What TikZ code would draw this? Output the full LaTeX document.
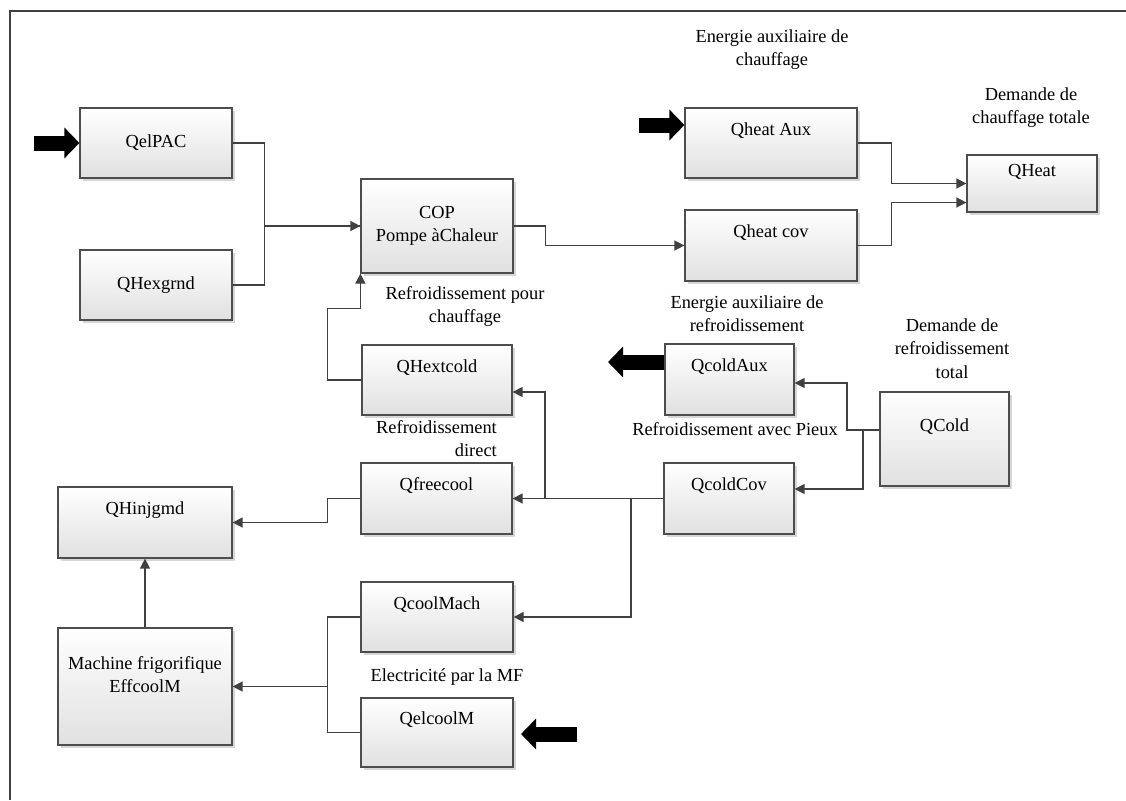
\documentclass[tikz,border=0pt]{standalone}
\usepackage{fontspec}
\setmainfont{Liberation Serif}
\usetikzlibrary{arrows.meta,shadows,calc}
\definecolor{linec}{HTML}{404040}
\definecolor{boxc}{HTML}{4D4D4D}
\newcommand\dfnt{\fontsize{18.4pt}{23.5pt}\selectfont}
\tikzset{
  box/.style={draw=boxc, line width=1.2pt, top color=white, bottom color=black!12,
    drop shadow={shadow xshift=3pt,shadow yshift=-3pt,fill=black!16,opacity=1},
    inner sep=0pt, align=center, font=\dfnt},
  topbox/.style={box, text height=13pt, text depth=29pt},
  conn/.style={draw=linec, line width=1.4pt},
  arr/.style={conn, -{Triangle[length=10pt,width=10pt]}},
  bigarr/.style={draw=black, line width=15pt, -{Triangle[length=15pt,width=30pt]}},
  lbl/.style={font=\dfnt, align=center, inner sep=0pt},
}
\begin{document}
\begin{tikzpicture}[x=1pt,y=-1pt]
\useasboundingbox (0,0) rectangle (1126,800);
\fill[white] (0,0) rectangle (1126,800);
\draw[line width=1.5pt, draw=linec] (10,800) -- (10,11) -- (1126,11);

% boxes
\node[box, minimum width=152pt, minimum height=70pt] (qelpac) at (156,143) {QelPAC};
\node[box, minimum width=152pt, minimum height=70pt] (qhexgrnd) at (156,285) {QHexgrnd};
\node[box, minimum width=152pt, minimum height=94pt] (cop) at (437,226) {COP\\Pompe àChaleur};
\node[topbox, minimum width=172pt, minimum height=70pt] (qheataux) at (771,143) {Qheat Aux};
\node[topbox, minimum width=172pt, minimum height=71pt] (qheatcov) at (771,245.5) {Qheat cov};
\node[box, minimum width=130pt, minimum height=57pt, text height=13pt, text depth=27pt] (qheat) at (1032,183.5) {QHeat};
\node[topbox, minimum width=150pt, minimum height=70pt] (qhextcold) at (437,380) {QHextcold};
\node[topbox, minimum width=129pt, minimum height=71pt] (qcoldaux) at (729.5,379.5) {QcoldAux};
\node[topbox, minimum width=130pt, minimum height=71pt] (qcoldcov) at (729,498.5) {QcoldCov};
\node[topbox, minimum width=129pt, minimum height=94pt, text depth=28pt] (qcold) at (944.5,439) {QCold};
\node[topbox, minimum width=151pt, minimum height=71pt] (qfreecool) at (436.5,498.5) {Qfreecool};
\node[topbox, minimum width=174pt, minimum height=71pt] (qhinjgmd) at (145,522.5) {QHinjgmd};
\node[box, minimum width=174pt, minimum height=117pt, text depth=24pt] (machine) at (145,686.5) {Machine frigorifique\\EffcoolM};
\node[topbox, minimum width=152pt, minimum height=70pt] (qcoolmach) at (437,617) {QcoolMach};
\node[topbox, minimum width=152pt, minimum height=69pt] (qelcoolm) at (437,732.5) {QelcoolM};

% labels
\node[lbl] (l1) at (772,49.5) {Energie auxiliaire de\\chauffage};
\node[lbl] (l2) at (1031,107.5) {Demande de\\chauffage totale};
\node[lbl] (l3) at (465,306.5) {Refroidissement pour\\chauffage};
\node[lbl] (l4) at (747,313.5) {Energie auxiliaire de\\refroidissement};
\node[lbl] (l5) at (952,348.5) {Demande de\\refroidissement\\total};
\node[lbl] (l6) at (735,429) {Refroidissement avec Pieux};
\node[lbl, align=right, anchor=east] (l7) at (497,438.5) {Refroidissement\\direct};
\node[lbl] (l8) at (447,677) {Electricité par la MF};

% connectors
\draw[arr] (qelpac.east) -- ++(32,0) |- (cop.west);
\draw[conn] (qhexgrnd.east) -- ++(32,0) |- (cop.west);
\draw[arr] (cop.east) -- ++(32,0) |- (qheatcov.west);
\draw[arr] (qheataux.east) -- ++(34,0) |- (qheat.west);
\draw[arr] (qheatcov.east) -- ++(34,0) |- ($(qheat.west)+(0,19)$);
\draw[arr] (qhextcold.west) -- ++(-34,0) |- ($(cop.south west)+(0,35)$) -- (cop.south west);

\coordinate (qj) at (863,430);
\draw[conn] (qcold.west |- qj) -- (qj);
\draw[arr] (qj) -- ++(-16,0) |- ($(qcoldaux.east)+(0,3.5)$);
\draw[arr] (qj) |- ($(qcoldcov.east)+(0,-9.5)$);

\coordinate (j1) at (545,498.5);
\coordinate (j2) at (631,498.5);
\draw[arr] (qcoldcov.west) -- (qfreecool.east);
\draw[arr] (j1) |- ($(qhextcold.east)+(0,12)$);
\draw[arr] (j2) |- (qcoolmach.east);

\draw[arr] (qfreecool.west) -- ++(-33,0) |- (qhinjgmd.east);
\draw[arr] (machine.north) -- (qhinjgmd.south);
\draw[arr] (qcoolmach.west) -- ++(-33,0) |- (machine.east);
\draw[conn] (qelcoolm.west) -- ++(-33,0) |- (machine.east);

% thick black arrows
\coordinate (b1) at (34,143);
\draw[bigarr] (b1) -- (qelpac.west);
\coordinate (b2) at (639,125);
\draw[bigarr] (b2) -- (b2 -| qheataux.west);
\coordinate (b3) at (608,362);
\draw[bigarr] (b3 -| qcoldaux.west) -- (b3);
\coordinate (b4s) at (577,734);
\coordinate (b4e) at (521,734);
\draw[bigarr] (b4s) -- (b4e);
\end{tikzpicture}
\end{document}
